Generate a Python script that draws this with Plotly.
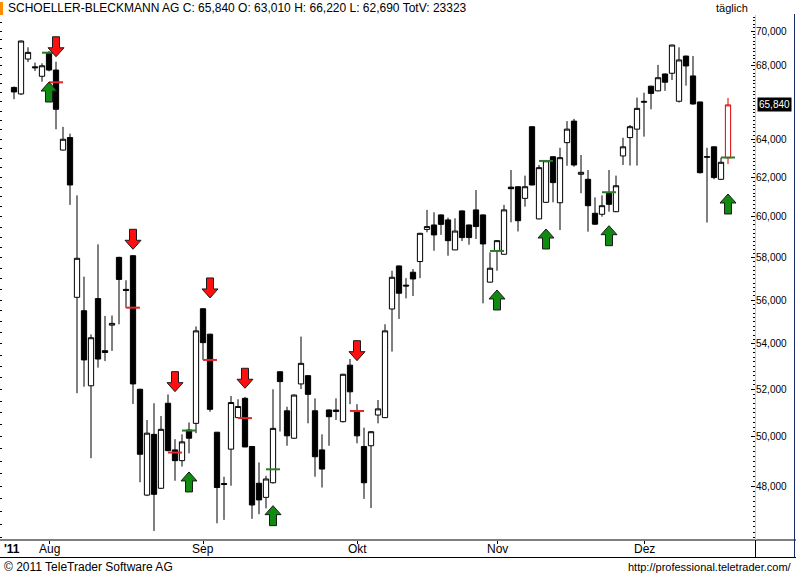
import math
import pandas as pd
import plotly.graph_objects as go

# ---------------- data ----------------
stock_name = "SCHOELLER-BLECKMANN AG"
total_volume = 23323
holidays = ["2011-08-15", "2011-10-26", "2011-11-01"]
dates = [d for d in pd.bdate_range("2011-07-25", "2011-12-19")
         if d.strftime("%Y-%m-%d") not in holidays]

opens = [66800, 66440, 68390, 67950, 67420, 68710, 67770, 63420, 64080, 56130,
         55510, 52160, 56070, 53700, 54850, 58020, 56500, 58100, 52010, 47640,
         50100, 47910, 51410, 49460, 49020, 50280, 50560, 55600, 54440, 50190,
         48100, 49490, 50800, 51620, 49600, 48110, 47550, 48130, 52770, 51090,
         49940, 52240, 52600, 51090, 49460, 51125, 51120, 50630, 53060, 51080,
         49600, 49630, 50910, 50800, 55590, 57610, 56700, 57310, 57820, 59380,
         59600, 60100, 59850, 58380, 60300, 59600, 60350, 60100, 56840, 58340,
         58170, 61500, 61520, 60930, 64660, 59900, 60730, 63070, 60710, 63810,
         64960, 62160, 61900, 60180, 60130, 61180, 60260, 63110, 64080, 64530,
         65980, 66870, 66610, 67550, 67590, 66040, 68560, 67440, 66000, 63040,
         63590, 61900, 63010]
highs = [66850, 69450, 69060, 68190, 68150, 68850, 68240, 64650, 64290, 61080,
         57100, 54430, 58650, 55270, 55290, 58050, 56930, 58120, 52030, 50700,
         51410, 50870, 51790, 49900, 50100, 50600, 54790, 55620, 54460, 50200,
         48370, 51720, 51580, 51680, 49610, 48950, 48410, 52010, 52790, 51260,
         51790, 54330, 52620, 51620, 50100, 51140, 51620, 52680, 53330, 51370,
         50380, 50240, 51550, 54890, 57380, 57630, 57030, 57460, 59210, 60350,
         60230, 60120, 59960, 59930, 60320, 59620, 61350, 60120, 58260, 58850,
         60600, 62380, 61540, 62090, 64680, 62640, 62880, 63090, 63540, 64960,
         65080, 63160, 62380, 60980, 61080, 62380, 62090, 64070, 64750, 66240,
         66510, 66890, 68060, 67570, 69210, 69060, 68580, 68560, 66010, 63540,
         63610, 63020, 66220]
lows = [66150, 66380, 68220, 67720, 67120, 67700, 64520, 63400, 60600, 51840,
        52120, 49120, 52950, 53240, 53690, 54890, 55640, 51380, 48150, 47600,
        46245, 47880, 49400, 48210, 48780, 49320, 50150, 53290, 51050, 46540,
        46670, 48010, 50780, 49570, 46710, 46890, 47120, 48100, 50220, 49630,
        49920, 52020, 50560, 48370, 47940, 49630, 50700, 50600, 51370, 49730,
        47490, 47130, 50560, 50780, 53660, 55130, 56080, 56190, 57030, 59240,
        58340, 59110, 58100, 58370, 58810, 58630, 58910, 55850, 56820, 57380,
        58150, 59730, 59280, 60510, 61590, 59880, 60700, 60730, 59350, 62600,
        62550, 61190, 59270, 59600, 60010, 60260, 60240, 62640, 62610, 62610,
        64130, 65600, 66590, 66610, 67210, 65970, 66900, 65850, 62200, 59720,
        61900, 61880, 62690]
closes = [66550, 69420, 68770, 67900, 68010, 67770, 65600, 63990, 61610, 57975,
          53290, 54280, 53330, 53620, 54930, 56970, 56450, 52240, 49280, 50150,
          47670, 50310, 49430, 49020, 49790, 49940, 54590, 54060, 51150, 47940,
          48060, 51440, 51270, 49580, 47250, 47450, 48280, 50350, 52340, 50040,
          51760, 53140, 51790, 49180, 48680, 50840, 51060, 52660, 51900, 50040,
          48130, 50210, 51170, 54590, 57070, 56320, 56660, 56990, 59190, 59520,
          59110, 59630, 58830, 59300, 58980, 58980, 59520, 58670, 57500, 58830,
          60350, 61420, 59810, 61520, 61610, 62500, 62860, 61730, 63020, 64530,
          62640, 62260, 60560, 59640, 60560, 60630, 61570, 63590, 64660, 65650,
          66030, 66470, 67340, 67090, 69190, 68340, 68000, 65890, 62240, 63070,
          61990, 62780, 65840]

sell_idx = [6, 17, 23, 28, 33, 49]
sell_arrow_price = [68520, 58410, 51906, 56100, 52052, 53257]
sell_level = [67085, 55650, 49350, 53290, 50780, 51080]
buy_idx = [5, 25, 37, 69, 76, 85, 102]
buy_arrow_price = [67100, 48563, 47225, 56473, 59402, 59565, 61151]
buy_level = [68752, 50260, 48670, 58330, 62850, 61240, 63030]

month_names = {8: "Aug", 9: "Sep", 10: "Okt", 11: "Nov", 12: "Dez"}
ytick_vals = list(range(48000, 70001, 2000))

# ---------------- geometry ----------------
W, H = 796, 575
ML, MR, MT, MB = 0, 41, 16, 35
PW, PH = W - ML - MR, H - MT - MB
STEP = 7.0  # px per trading day
X0 = -2.0
XR = [X0, X0 + PW / STEP]
YR = [4.6618, 4.8505]
PPL = PH / ((YR[1] - YR[0]) * math.log(10))  # px per ln unit

def fmt(v):
    return f"{v:,}"

last_close = closes[-1]
# the price box of the last close hides the nearby regular label
ytick_text = ["" if abs(math.log(v / last_close)) * PPL < 10 else fmt(v) for v in ytick_vals]

xs = list(range(len(dates)))

fig = go.Figure()

fig.add_trace(go.Candlestick(
    x=xs[:-1], open=opens[:-1], high=highs[:-1], low=lows[:-1], close=closes[:-1],
    increasing=dict(line=dict(color="black", width=1), fillcolor="white"),
    decreasing=dict(line=dict(color="black", width=1), fillcolor="black"),
    whiskerwidth=0, showlegend=False, hoverinfo="skip"))
fig.add_trace(go.Candlestick(
    x=xs[-1:], open=opens[-1:], high=highs[-1:], low=lows[-1:], close=closes[-1:],
    increasing=dict(line=dict(color="#e00000", width=1), fillcolor="white"),
    decreasing=dict(line=dict(color="#e00000", width=1), fillcolor="white"),
    whiskerwidth=0, showlegend=False, hoverinfo="skip"))

# signal level lines
def level_trace(idx, levels, color):
    lx, ly = [], []
    for i, lv in zip(idx, levels):
        lx += [i - 1, i + 1, None]
        ly += [lv, lv, None]
    return go.Scatter(x=lx, y=ly, mode="lines", line=dict(color=color, width=2),
                      showlegend=False, hoverinfo="skip")

fig.add_trace(level_trace(sell_idx, sell_level, "#e4262a"))
fig.add_trace(level_trace(buy_idx, buy_level, "#2d7a2d"))

# arrows (pixel geometry converted through the axis scales)
ARROW = [(0, 0), (8, 9), (3.5, 9), (3.5, 20), (-3.5, 20), (-3.5, 9), (-8, 9), (0, 0)]

def arrow_trace(i, tip, up, fill):
    ax, ay = [], []
    for dx, dy in ARROW:
        ax.append(i + dx / STEP)
        ay.append(tip * math.exp((-dy if up else dy) / PPL))
    return go.Scatter(x=ax, y=ay, mode="lines", fill="toself", fillcolor=fill,
                      line=dict(color="#1a1a1a", width=1), showlegend=False,
                      hoverinfo="skip")

for i, p in zip(sell_idx, sell_arrow_price):
    fig.add_trace(arrow_trace(i, p, False, "#ff1010"))
for i, p in zip(buy_idx, buy_arrow_price):
    fig.add_trace(arrow_trace(i, p, True, "#118a11"))

# dummy trace to show the left tick axis
fig.add_trace(go.Scatter(x=[0], y=[60000], yaxis="y2", mode="markers",
                         marker=dict(opacity=0), showlegend=False, hoverinfo="skip"))

# month ticks
tick_idx, tick_txt = [], []
for k, d in enumerate(dates):
    if k > 0 and d.month != dates[k - 1].month:
        tick_idx.append(k)
        tick_txt.append(month_names[d.month])

FONT = "Arial, Liberation Sans, sans-serif"

def px_x(p):
    return (p - ML) / PW

def px_y(p):
    return (MT + PH - p) / PH

shapes = [
    dict(type="rect", xref="paper", yref="paper", x0=px_x(0), x1=px_x(3), y0=px_y(2), y1=px_y(15),
         fillcolor="#ff8c00", line=dict(width=0)),
    dict(type="line", xref="paper", yref="paper", x0=px_x(0), x1=px_x(796), y0=px_y(540), y1=px_y(540),
         line=dict(color="black", width=1)),
    dict(type="line", xref="paper", yref="paper", x0=px_x(0), x1=px_x(796), y0=px_y(557.5), y1=px_y(557.5),
         line=dict(color="black", width=1)),
    dict(type="line", xref="paper", yref="paper", x0=px_x(755.5), x1=px_x(755.5), y0=px_y(15), y1=px_y(540),
         line=dict(color="#dccb7a", width=1)),
    dict(type="line", xref="paper", yref="paper", x0=px_x(755.5), x1=px_x(755.5), y0=px_y(540), y1=px_y(557.5),
         line=dict(color="black", width=1)),
    dict(type="line", xref="paper", yref="paper", x0=px_x(794.5), x1=px_x(794.5), y0=px_y(14), y1=px_y(557.5),
         line=dict(color="#1c2a6a", width=1)),
]

title_txt = (f"{stock_name} C: {fmt(closes[-1])} O: {fmt(opens[-1])} "
             f"H: {fmt(highs[-1])} L: {fmt(lows[-1])} TotV: {total_volume}")

annotations = [
    dict(xref="paper", yref="paper", x=px_x(6), y=px_y(8), text=title_txt, showarrow=False,
         xanchor="left", yanchor="middle", font=dict(family=FONT, size=12, color="black")),
    dict(xref="paper", yref="paper", x=px_x(750), y=px_y(8), text="täglich", showarrow=False,
         xanchor="right", yanchor="middle", font=dict(family=FONT, size=11, color="black")),
    dict(xref="paper", yref="paper", x=px_x(2), y=px_y(548.5), text="<b>'11</b>", showarrow=False,
         xanchor="left", yanchor="middle", font=dict(family=FONT, size=12, color="black")),
    dict(xref="paper", yref="paper", x=px_x(2), y=px_y(566.5), text="© 2011 TeleTrader Software AG",
         showarrow=False, xanchor="left", yanchor="middle",
         font=dict(family=FONT, size=12, color="black")),
    dict(xref="paper", yref="paper", x=px_x(794), y=px_y(566.5), text="http://professional.teletrader.com/",
         showarrow=False, xanchor="right", yanchor="middle",
         font=dict(family=FONT, size=11, color="black")),
    dict(xref="paper", yref="y", x=px_x(757), y=math.log10(last_close), text=fmt(last_close),
         showarrow=False, xanchor="left", yanchor="middle", bgcolor="black", borderpad=1,
         font=dict(family=FONT, size=10, color="white")),
]
for k, t in zip(tick_idx, tick_txt):
    annotations.append(dict(xref="x", yref="paper", x=k, y=px_y(548.5), text=t, showarrow=False,
                            xanchor="center", yanchor="middle",
                            font=dict(family=FONT, size=12, color="black")))

fig.update_layout(
    width=W, height=H, margin=dict(l=ML, r=MR, t=MT, b=MB),
    paper_bgcolor="white", plot_bgcolor="white",
    boxgap=0.25, boxgroupgap=0.0,
    xaxis=dict(range=XR, tickvals=tick_idx, ticktext=tick_txt, showticklabels=False,
               ticks="outside", ticklen=3, tickcolor="black", showgrid=False, zeroline=False,
               showline=False, rangeslider=dict(visible=False), fixedrange=True),
    yaxis=dict(type="log", range=YR, side="right", tickvals=ytick_vals, ticktext=ytick_text,
               ticks="inside", ticklen=4, tickcolor="black", showgrid=False, zeroline=False,
               showline=False, tickfont=dict(family=FONT, size=10, color="black"),
               minor=dict(tickvals=list(range(46000, 71001, 200)), ticks="inside", ticklen=2,
                          tickcolor="black", showgrid=False)),
    yaxis2=dict(type="log", range=YR, side="left", overlaying="y", anchor="x",
                tickvals=list(range(46000, 71001, 500)), ticks="inside", ticklen=2,
                tickcolor="black", showticklabels=False, showgrid=False, zeroline=False,
                showline=False),
    shapes=shapes, annotations=annotations, showlegend=False,
)

fig.write_html("out.html")
